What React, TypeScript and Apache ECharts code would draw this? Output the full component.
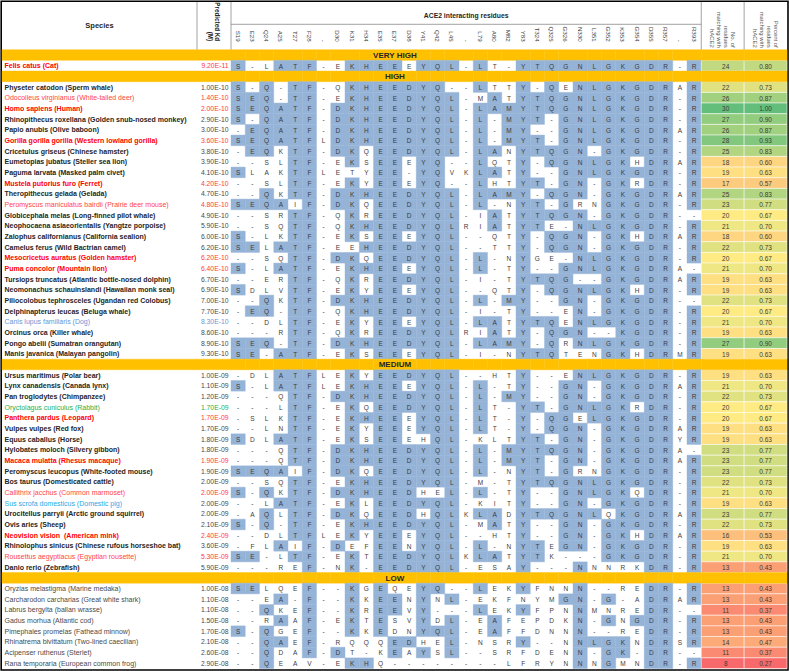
import { useEffect, useRef } from 'react';
import * as echarts from 'echarts';

// ---------- data ----------
const residueColumns = ['S19', 'E23', 'Q24', 'A25', 'T27', 'F28', '-', 'D30', 'K31', 'H34', 'E35', 'E37', 'D38', 'Y41', 'Q42', 'L45', '-', 'L79', 'A80', 'M82', 'Y83', 'T324', 'Q325', 'G326', 'N330', 'L351', 'G352', 'K353', 'G354', 'D355', 'R357', '-', 'R393'];

const groupNames = ['VERY HIGH', 'HIGH', 'MEDIUM', 'LOW'];
const groupSizes = [1, 26, 19, 8];

const speciesNames = [
  'Felis catus (Cat)',
  'Physeter catodon (Sperm whale)',
  'Odocoileus virginianus (White-tailed deer)',
  'Homo sapiens (Human)',
  'Rhinopithecus roxellana (Golden snub-nosed monkey)',
  'Papio anubis (Olive baboon)',
  'Gorilla gorilla gorilla (Western lowland gorilla)',
  'Cricetulus griseus (Chinese hamster)',
  'Eumetopias jubatus (Steller sea lion)',
  'Paguma larvata (Masked palm civet)',
  'Mustela putorius furo (Ferret)',
  'Theropithecus gelada (Gelada)',
  'Peromyscus maniculatus bairdii (Prairie deer mouse)',
  'Globicephala melas (Long-finned pilot whale)',
  'Neophocaena asiaeorientalis (Yangtze porpoise)',
  'Zalophus californianus (California sealion)',
  'Camelus ferus (Wild Bactrian camel)',
  'Mesocricetus auratus (Golden hamster)',
  'Puma concolor (Mountain lion)',
  'Tursiops truncatus (Atlantic bottle-nosed dolphin)',
  'Neomonachus schauinslandi (Hawaiian monk seal)',
  'Piliocolobus tephrosceles (Ugandan red Colobus)',
  'Delphinapterus leucas (Beluga whale)',
  'Canis lupus familiaris (Dog)',
  'Orcinus orca (Killer whale)',
  'Pongo abelii (Sumatran orangutan)',
  'Manis javanica (Malayan pangolin)',
  'Ursus maritimus (Polar bear)',
  'Lynx canadensis (Canada lynx)',
  'Pan troglodytes (Chimpanzee)',
  'Oryctolagus cuniculus (Rabbit)',
  'Panthera pardus (Leopard)',
  'Vulpes vulpes (Red fox)',
  'Equus caballus (Horse)',
  'Hylobates moloch (Silvery gibbon)',
  'Macaca mulatta (Rhesus macaque)',
  'Peromyscus leucopus (White-footed mouse)',
  'Bos taurus (Domesticated cattle)',
  'Callithrix jacchus (Common marmoset)',
  'Sus scrofa domesticus (Domestic pig)',
  'Urocitellus parryii (Arctic ground squirrel)',
  'Ovis aries (Sheep)',
  'Neovision vision  (American mink)',
  'Rhinolophus sinicus (Chinese rufous horseshoe bat)',
  'Rousettus aegyptiacus (Egyptian rousette)',
  'Danio rerio (Zebrafish)',
  'Oryzias melastigma (Marine medaka)',
  'Carcharodon carcharias (Great white shark)',
  'Labrus bergylta (ballan wrasse)',
  'Gadus morhua (Atlantic cod)',
  'Pimephales promelas (Fathead minnow)',
  'Rhinatrema bivittatum (Two-lined caecilian)',
  'Acipenser ruthenus (Sterlet)',
  'Rana temporaria (European common frog)',
];

const predictedKd = [
  '9.20E-11',
  '1.00E-10', '1.40E-10', '2.00E-10', '2.90E-10', '3.00E-10', '3.60E-10', '3.80E-10', '3.90E-10', '4.10E-10', '4.20E-10',
  '4.70E-10', '4.80E-10', '4.90E-10', '5.90E-10', '6.00E-10', '6.20E-10', '6.20E-10', '6.40E-10', '6.70E-10', '6.90E-10',
  '7.00E-10', '7.70E-10', '8.30E-10', '8.60E-10', '8.90E-10', '9.30E-10',
  '1.00E-09', '1.10E-09', '1.20E-09', '1.70E-09', '1.70E-09', '1.70E-09', '1.80E-09', '1.80E-09', '1.90E-09', '1.90E-09',
  '2.00E-09', '2.00E-09', '2.00E-09', '2.00E-09', '2.10E-09', '2.40E-09', '3.60E-09', '5.30E-09', '5.90E-09',
  '1.00E-08', '1.10E-08', '1.10E-08', '1.50E-08', '1.70E-08', '2.10E-08', '2.60E-08', '2.90E-08',
];

// b = bold dark, R = bold red, r = red, d = dog blue, p = pig blue, g = green, l = grey
const nameStyles = [
  'R',
  'b', 'r', 'R', 'b', 'b', 'R', 'b', 'b', 'b', 'R', 'b', 'r', 'b', 'b', 'b', 'b', 'R', 'R', 'b', 'b', 'b', 'b', 'd', 'b', 'b', 'b',
  'b', 'b', 'b', 'g', 'R', 'b', 'b', 'b', 'R', 'b', 'b', 'r', 'p', 'b', 'b', 'R', 'b', 'r', 'b',
  'l', 'l', 'l', 'l', 'l', 'l', 'l', 'l',
];

const residues = [
  'S-LATF-EKHEEEYQL-LT-YTQGNLGKGDR-R',
  'S-Q-TF-QKHEEDYQ--LTTY-QENLGKGDRAR',
  'SEQ-TF-EKHEEDYQL-MATYTQGNLGKGDR-R',
  'SEQATF-DKHEEDYQL-LAMYTQGNLGKGDR-R',
  'S-QATF-DKHEEDYQL-L-MYT-GNLGKGDR-R',
  '-EQATF-DKHEEDYQL-L-MY--GNLGKGDRAR',
  'SEQATFLDKHEEDYQL-L-MYT-GNLGKGDR-R',
  '-EQKTF-DKQEEDYQL-LANYTQGN-GKGDR-R',
  '--SLTF-EKSEEEYQ--LQTY-QGNLGKHDRAR',
  'SLAKTFLETYEE-YQVKLATY--GNLGKGDR-R',
  '--SLTF-EKYEEEYQ--LHTYT-GN-GKRDR-R',
  '--QKTF-DKHEEDYQL-LAMY-QGN-GKGDRAR',
  'SEQAIF-DKQEEDYQL-L-NYT-GRNGKGDR-R',
  '--SRTF-QKREEDYQL-IATYTQGN-GKGDR--',
  '--SQTF-QKHEEDYQLRIATYTE-NLGKGDR-R',
  'S-LKTF-EKSEEEYQL--QTY-QGN-GKHDRAR',
  'SELATF-EEHEEDYQL--TTY-QGN-GKGDR-R',
  '--SQTF-DKQEEDYQL-L-NYGE-NLGKGDR-R',
  'S-LATF-EKHEEEYQL-L-TY--GNLGKGDRA-',
  '--ERTF-QKREEDYQL-I-TYTQG--GKGDRAR',
  'SDLVTF-EKYEEEYQL--QTY-QGNLGKHDR-R',
  '--QKTF-DKHEEDYQL-L-MY--GN-GKGDR--',
  '-EQ-TF-QKHEEDYQL-I-TY--EN-GKGDR-R',
  '--DLTF-EKYEEEYQL-LATYTQENLGKGDR-R',
  '---RTF-QKREEDYQLRIATY-QGN--KGDR-R',
  'SEQ-TF-DKHEEDYQL-LAMY-QRNLGKGDR-R',
  'SE-ATF-EKSEEEYQL-I-NYTQTENGKHDRMR',
  '-DLATFLEKYEEDYQL--HTY--ENLGKGDR-R',
  'S-LATFLEKHEEEYQL-L-TY--GN-GKGDRAR',
  '---QTF-DKHEEDYQL-L-MY--GN-GKGDR-R',
  '---LTF-EKQEEDYQL-LT-YT-GNLGKRDR-R',
  '-SLKTF-EKHEEEYQL-LT-Y-QGELGKGDR-R',
  '--LNTF-EKYEEEYQL-LT-Y-QGN-GKGDRAR',
  'SDLATF-EKSEEEHQL-KLTYT-GN-GKGDRYR',
  '---QTF-DKHEEDYQL-L-MYTQGN-GKGDRA-',
  '---QTF-DKHEEDYQL-L-MYT-GN-GKGDRAR',
  'SEQAIF-DKQEEDYQL-L-NYT-GRNGKGDR-R',
  '--SQTF-EKHEEDYQL-M-TYTQGNLGKGDR-R',
  'S-QKTF-DKHEEDHEL-L-TY--GNLGKQDR-R',
  '--LATF-EKLEEDYQL-KITY--GN-GKGDR-R',
  '-AQLTF-DKQEEDHQLKLADYTQGNLQKGDRAR',
  'S-Q-TF-EKHEEDYQL-MATY--GN-GKGDR-R',
  '--DLTFLEKYEEEYQL--HTY--GN-GKHDRAR',
  '-FLAIF-DEFEENYQL-L-NYTEGN-GKGDR-R',
  'SE-LTF-EKTEEDYQLKLATYTK---GKGDR-R',
  '---REF-NK-EEDYQL-ESAY---NNNRKDR-R',
  'SELQEF--KGEQEYQ--LEKYFNNN--REDR-R',
  '--EA-F--KKEENYNL-EKFNYMGN-G-ADRAR',
  '--QKEF--KREEVY---LEKYFPNNMNREDR--',
  '--RAAF-EKTESVYDL-EAFEPDKN-GNGDR-R',
  'S-QGEF--KKEDNYQL-EAFFDNNN--REDR-R',
  '--QAEF-RQQQEDHEL-NSRY--NNLGKNDRSR',
  '--QDAF-DT-KEAYSL--SRFDENN-GK-DR--',
  '--QEAV-EKHQ--------LFRYNNNGMNDR-R',
];

const matchCounts = [
  24,
  22, 26, 30, 27, 26, 28, 25, 18, 19, 17, 25, 23, 20, 21, 18, 22, 20, 21, 19, 19, 22, 20, 21, 19, 27, 19,
  19, 21, 22, 20, 20, 19, 19, 23, 23, 23, 22, 21, 19, 23, 22, 16, 19, 21, 13,
  13, 13, 11, 13, 13, 14, 11, 8,
];

const matchPercents = [
  '0.80',
  '0.73', '0.87', '1.00', '0.90', '0.87', '0.93', '0.83', '0.60', '0.63', '0.57', '0.83', '0.77', '0.67', '0.70', '0.60',
  '0.73', '0.67', '0.70', '0.63', '0.63', '0.73', '0.67', '0.70', '0.63', '0.90', '0.63',
  '0.63', '0.70', '0.73', '0.67', '0.67', '0.63', '0.63', '0.77', '0.77', '0.77', '0.73', '0.70', '0.63', '0.77', '0.73',
  '0.53', '0.63', '0.70', '0.43',
  '0.43', '0.43', '0.37', '0.43', '0.43', '0.47', '0.37', '0.27',
];

const referenceSpecies = 'Homo sapiens (Human)';
const statHeaders = ['No. of\nresidues\nmatching with\nhACE2', 'Percent of\nresidues\nmatching with\nhACE2'];

// ---------- styling ----------
const FONT = '"Liberation Sans", Arial, Helvetica, sans-serif';
const BAND = '#FFC000';
const BLUE = '#95B3D7';
const nameColor: Record<string, string> = { b: '#262626', R: '#FF0000', r: '#FF4545', d: '#6C95D4', p: '#1FA9E6', g: '#1FAF4B', l: '#4A4A4A' };
const nameBold: Record<string, boolean> = { b: true, R: true, r: false, d: false, p: false, g: false, l: false };
const kdColor: Record<string, string> = { b: '#4A4A4A', R: '#FF3B3B', r: '#FF3B3B', d: '#6C95D4', p: '#4A4A4A', g: '#1FAF4B', l: '#4A4A4A' };

const W = 789;
const H = 671;
const X0 = 2;
const X_SP = 197;
const X_KD = 231;
const COLW = 14.25;
const X_RES = X_KD + COLW * residueColumns.length;
const X_END = 787;
const TOP = 49.7;
const ROWH = 10.67;

function hex(c: string) {
  return [1, 3, 5].map((k) => parseInt(c.slice(k, k + 2), 16));
}
function mix(a: string, b: string, t: number) {
  const A = hex(a), B = hex(b);
  return '#' + A.map((v, i) => Math.round(v + (B[i] - v) * t).toString(16).padStart(2, '0')).join('');
}

export default function App() {
  const ref = useRef<HTMLDivElement>(null);
  useEffect(() => {
    if (!ref.current) return;
    const chart = echarts.init(ref.current, null, { renderer: 'svg' });

    const rows: { band?: string; sp?: number }[] = [];
    let k = 0;
    groupNames.forEach((g, gi) => {
      rows.push({ band: g });
      for (let j = 0; j < groupSizes[gi]; j++) rows.push({ sp: k++ });
    });
    const rowIds = rows.map((_, i) => 'r' + i);
    const BODY_H = ROWH * rows.length;
    const ref0 = residues[speciesNames.indexOf(referenceSpecies)];

    const cMin = Math.min(...matchCounts);
    const cMax = Math.max(...matchCounts);
    const sorted = [...matchCounts].sort((a, b) => a - b);
    const cMid = (sorted[Math.floor((sorted.length - 1) / 2)] + sorted[Math.ceil((sorted.length - 1) / 2)]) / 2;
    const stops: string[] = [];
    const NS = 23;
    for (let s = 0; s < NS; s++) {
      const v = cMin + ((cMax - cMin) * s) / (NS - 1);
      stops.push(v <= cMid ? mix('#F8696B', '#FFEB84', (v - cMin) / (cMid - cMin)) : mix('#FFEB84', '#63BE7B', (v - cMid) / (cMax - cMid)));
    }

    const cell = (api: any, x: number, y: number) => {
      const p = api.coord([x, y]);
      const s = api.size([1, 1]);
      return { cx: p[0], cy: p[1], x0: p[0] - s[0] / 2, y0: p[1] - s[1] / 2, w: s[0], h: s[1] };
    };
    const bandRect = (c: any) => ({ type: 'rect', shape: { x: c.x0, y: c.y0, width: c.w, height: c.h }, style: { fill: BAND, stroke: BAND, lineWidth: 0.4 } });

    const speciesData = rows.map((_, i) => [0, i]);
    const residueData: number[][] = [];
    rows.forEach((_, i) => residueColumns.forEach((__, c) => residueData.push([c, i])));
    const statData: number[][] = [];
    const statBandData: number[][] = [];
    rows.forEach((r, i) => {
      if (r.band) {
        statBandData.push([0, i], [1, i]);
      } else {
        statData.push([0, i, matchCounts[r.sp!]], [1, i, matchCounts[r.sp!]]);
      }
    });
    const bandLabelData = rows.map((r, i) => (r.band ? [11, i] : null)).filter(Boolean) as number[][];

    const hiddenAxisBase = { axisLine: { show: false }, axisTick: { show: false }, splitLine: { show: false } };

    const option: any = {
      animation: false,
      backgroundColor: '#ffffff',
      grid: [
        { left: X0, top: TOP, width: X_SP - X0, height: BODY_H },
        { left: X_SP, top: TOP, width: X_KD - X_SP, height: BODY_H },
        { left: X_KD, top: TOP, width: X_RES - X_KD, height: BODY_H },
        { left: X_RES, top: TOP, width: X_END - X_RES, height: BODY_H },
      ].map((g) => ({ ...g, containLabel: false, outerBoundsMode: 'none' })),
      xAxis: [
        {
          gridIndex: 0, type: 'category', data: ['Species'], position: 'top', ...hiddenAxisBase,
          axisLabel: { interval: 0, margin: 20, fontSize: 7.5, fontWeight: 'bold', color: '#262626', fontFamily: FONT },
        },
        {
          gridIndex: 1, type: 'category', data: ['Predicted Kd\n(M)'], position: 'top', ...hiddenAxisBase,
          axisLabel: { interval: 0, rotate: 90, margin: 8.5, fontSize: 6.3, lineHeight: 7.8, fontWeight: 'bold', color: '#262626', fontFamily: FONT },
        },
        {
          gridIndex: 2, type: 'category', data: residueColumns.map((_, i) => 'c' + i), position: 'top', ...hiddenAxisBase,
          axisLabel: {
            interval: 0, rotate: 90, margin: 8, fontSize: 6.2, color: '#404040', fontFamily: FONT,
            formatter: (_v: string, i: number) => residueColumns[i],
          },
          name: 'ACE2 interacting residues', nameLocation: 'middle', nameGap: 27.5,
          nameTextStyle: { fontSize: 6.8, fontWeight: 'bold', color: '#262626', fontFamily: FONT },
        },
        {
          gridIndex: 3, type: 'category', data: statHeaders, position: 'top', ...hiddenAxisBase,
          axisLabel: { interval: 0, rotate: 90, margin: 2, fontSize: 5.9, lineHeight: 7, color: '#595959', fontFamily: FONT },
        },
      ],
      yAxis: [0, 1, 2, 3].map((g) => ({ gridIndex: g, type: 'category', data: rowIds, inverse: true, show: false })),
      visualMap: [
        { type: 'continuous', show: false, seriesIndex: 3, dimension: 2, min: cMin, max: cMax, inRange: { color: stops } },
      ],
      series: [
        {
          type: 'custom', xAxisIndex: 0, yAxisIndex: 0, data: speciesData,
          renderItem: (params: any, api: any) => {
            const r = rows[params.dataIndex];
            const c = cell(api, 0, api.value(1));
            if (r.band) return bandRect(c);
            const st = nameStyles[r.sp!];
            return {
              type: 'text', x: c.x0 + 2.5, y: c.cy,
              style: {
                text: speciesNames[r.sp!], fill: nameColor[st], fontSize: 7, fontWeight: nameBold[st] ? 'bold' : 'normal',
                fontFamily: FONT, align: 'left', verticalAlign: 'middle',
              },
            };
          },
        },
        {
          type: 'custom', xAxisIndex: 1, yAxisIndex: 1, data: speciesData,
          renderItem: (params: any, api: any) => {
            const r = rows[params.dataIndex];
            const c = cell(api, 0, api.value(1));
            if (r.band) return bandRect(c);
            const st = nameStyles[r.sp!];
            return {
              type: 'text', x: c.x0 + c.w - 2.5, y: c.cy,
              style: { text: predictedKd[r.sp!], fill: kdColor[st], fontSize: 6.8, fontFamily: FONT, align: 'right', verticalAlign: 'middle' },
            };
          },
        },
        {
          type: 'custom', xAxisIndex: 2, yAxisIndex: 2, data: residueData,
          renderItem: (_params: any, api: any) => {
            const col = api.value(0);
            const ri = api.value(1);
            const r = rows[ri];
            const c = cell(api, col, ri);
            if (r.band) return bandRect(c);
            const ch = residues[r.sp!][col];
            const match = ch !== '-' && ch === ref0[col];
            const children: any[] = [];
            if (match) children.push({ type: 'rect', shape: { x: c.x0, y: c.y0, width: c.w, height: c.h }, style: { fill: BLUE, stroke: BLUE, lineWidth: 0.4 } });
            children.push({
              type: 'text', x: c.cx, y: c.cy + 0.3,
              style: { text: ch, fill: '#3C3C3C', fontSize: 6.5, fontFamily: FONT, align: 'center', verticalAlign: 'middle' },
            });
            return { type: 'group', children };
          },
        },
        {
          type: 'custom', xAxisIndex: 3, yAxisIndex: 3, data: statData,
          renderItem: (_params: any, api: any) => {
            const col = api.value(0);
            const ri = api.value(1);
            const r = rows[ri];
            const c = cell(api, col, ri);
            const txt = col === 0 ? String(matchCounts[r.sp!]) : matchPercents[r.sp!];
            return {
              type: 'group',
              children: [
                { type: 'rect', shape: { x: c.x0, y: c.y0, width: c.w, height: c.h }, style: { fill: api.visual('color'), stroke: '#ffffff', lineWidth: 0.5 } },
                { type: 'text', x: c.cx + (col === 0 ? 3 : 0), y: c.cy + 0.3, style: { text: txt, fill: '#3C3C3C', fontSize: 6.5, fontFamily: FONT, align: 'center', verticalAlign: 'middle' } },
              ],
            };
          },
        },
        {
          type: 'custom', xAxisIndex: 3, yAxisIndex: 3, data: statBandData,
          renderItem: (_params: any, api: any) => bandRect(cell(api, api.value(0), api.value(1))),
        },
        {
          type: 'custom', xAxisIndex: 2, yAxisIndex: 2, data: bandLabelData,
          renderItem: (_params: any, api: any) => {
            const ri = api.value(1);
            const c = cell(api, api.value(0), ri);
            return {
              type: 'text', x: c.cx, y: c.cy + 0.3,
              style: { text: rows[ri].band, fill: '#262626', fontSize: 8, fontWeight: 'bold', fontFamily: FONT, align: 'center', verticalAlign: 'middle' },
            };
          },
        },
      ],
      graphic: [
        { type: 'line', shape: { x1: X_SP, y1: 1.5, x2: X_SP, y2: TOP }, style: { stroke: '#8C8C8C', lineWidth: 0.8 } },
        { type: 'line', shape: { x1: X_KD, y1: 1.5, x2: X_KD, y2: TOP }, style: { stroke: '#8C8C8C', lineWidth: 0.8 } },
        { type: 'line', shape: { x1: X_RES, y1: 1.5, x2: X_RES, y2: TOP }, style: { stroke: '#8C8C8C', lineWidth: 0.8 } },
        { type: 'line', shape: { x1: (X_RES + X_END) / 2, y1: 1.5, x2: (X_RES + X_END) / 2, y2: TOP }, style: { stroke: '#8C8C8C', lineWidth: 0.8 } },
        { type: 'line', shape: { x1: X_KD, y1: 24.3, x2: X_RES, y2: 24.3 }, style: { stroke: '#8C8C8C', lineWidth: 0.8 } },
        { type: 'rect', shape: { x: 1.2, y: 1.2, width: X_END - 0.2, height: TOP + BODY_H + 0.3 }, style: { fill: 'none', stroke: '#000000', lineWidth: 1.6 } },
      ],
    };
    chart.setOption(option);
    return () => chart.dispose();
  }, []);
  return <div ref={ref} style={{ position: 'absolute', left: 0, top: 0, width: W, height: H, background: '#fff' }} />;
}
